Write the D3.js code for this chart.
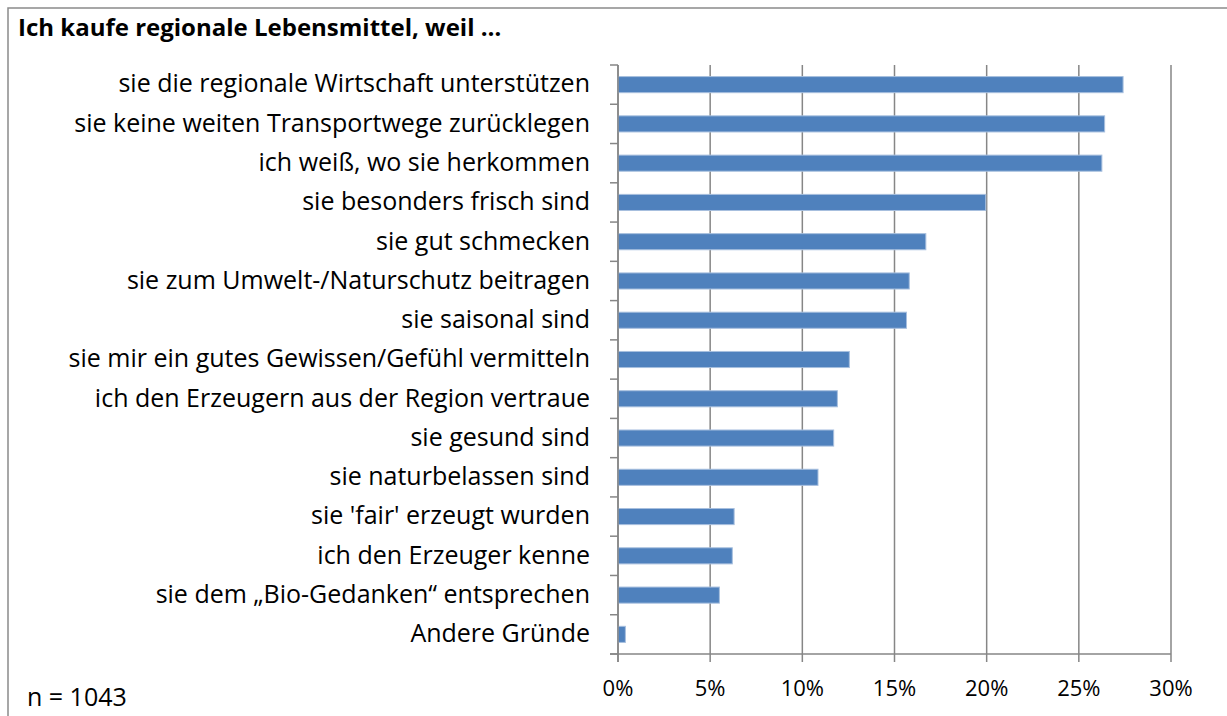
<!DOCTYPE html>
<html>
<head>
<meta charset="utf-8">
<script src="https://cdn.jsdelivr.net/npm/d3@7"></script>
<style>
  body { margin: 0; background: #fff; }
  text { font-family: "Open Sans", "Noto Sans", sans-serif; fill: #000; }
</style>
</head>
<body>
<svg id="chart" width="1227" height="716" viewBox="0 0 1227 716"></svg>
<script>
const reasons = [
  "sie die regionale Wirtschaft unterstützen",
  "sie keine weiten Transportwege zurücklegen",
  "ich weiß, wo sie herkommen",
  "sie besonders frisch sind",
  "sie gut schmecken",
  "sie zum Umwelt-/Naturschutz beitragen",
  "sie saisonal sind",
  "sie mir ein gutes Gewissen/Gefühl vermitteln",
  "ich den Erzeugern aus der Region vertraue",
  "sie gesund sind",
  "sie naturbelassen sind",
  "sie 'fair' erzeugt wurden",
  "ich den Erzeuger kenne",
  "sie dem „Bio-Gedanken“ entsprechen",
  "Andere Gründe"
];
const shares = [27.4, 26.4, 26.25, 19.95, 16.7, 15.8, 15.65, 12.55, 11.9, 11.7, 10.85, 6.3, 6.2, 5.5, 0.4];
const xTicks = [0, 5, 10, 15, 20, 25, 30];

const title = "Ich kaufe regionale Lebensmittel, weil …";
const note = "n = 1043";

const svg = d3.select("#chart");
const margin = { top: 65, left: 618, right: 56, bottom: 62 };
const width = 1227, height = 716;

// frame of the chart area
svg.append("rect")
  .attr("x", 8).attr("y", 8)
  .attr("width", 1240).attr("height", 730)
  .attr("fill", "none")
  .attr("stroke", "#8a8a8a")
  .attr("stroke-width", 1.5);

const x = d3.scaleLinear().domain([0, 30]).range([margin.left, width - margin.right]);
const y = d3.scaleBand().domain(reasons).range([margin.top, height - margin.bottom]).paddingInner(0.59).paddingOuter(0.295);
const yb = d3.scaleBand().domain(reasons).range([margin.top, height - margin.bottom]);
const y0 = margin.top, y1 = height - margin.bottom;

// vertical gridlines + ticks below axis
svg.append("g")
  .selectAll("line")
  .data(xTicks)
  .enter()
  .append("line")
  .attr("x1", (d) => x(d)).attr("x2", (d) => x(d))
  .attr("y1", y0).attr("y2", y1 + 8)
  .attr("stroke", "#868686")
  .attr("stroke-width", 1.5);

// bottom axis line
svg.append("line")
  .attr("x1", x(0) - 8).attr("x2", x(30))
  .attr("y1", y1).attr("y2", y1)
  .attr("stroke", "#868686").attr("stroke-width", 1.5);

// category ticks at band boundaries
const bounds = reasons.map((r) => yb(r)).concat([y1]);
svg.append("g")
  .selectAll("line")
  .data(bounds)
  .enter()
  .append("line")
  .attr("x1", x(0) - 8).attr("x2", x(0))
  .attr("y1", (d) => d).attr("y2", (d) => d)
  .attr("stroke", "#868686").attr("stroke-width", 1.5);

// bars
svg.append("g")
  .selectAll("rect")
  .data(reasons)
  .enter()
  .append("rect")
  .attr("x", x(0))
  .attr("y", (d) => y(d))
  .attr("width", (d, i) => x(shares[i]) - x(0))
  .attr("height", y.bandwidth())
  .attr("fill", "#4f81bd")
  .attr("stroke", "#a7bfde")
  .attr("stroke-width", 1);

// y axis line (drawn over bars)
svg.append("line")
  .attr("x1", x(0)).attr("x2", x(0))
  .attr("y1", y0).attr("y2", y1 + 8)
  .attr("stroke", "#868686").attr("stroke-width", 1.5);

// category labels
svg.append("g")
  .selectAll("text")
  .data(reasons)
  .enter()
  .append("text")
  .attr("x", 590)
  .attr("y", (d) => yb(d) + yb.bandwidth() / 2 + 7.8)
  .attr("text-anchor", "end")
  .attr("font-size", 25)
  .text((d) => d);

// percent labels
svg.append("g")
  .selectAll("text")
  .data(xTicks)
  .enter()
  .append("text")
  .attr("x", (d) => x(d))
  .attr("y", 696)
  .attr("text-anchor", "middle")
  .attr("font-size", 22)
  .text((d) => d3.format("d")(d) + "%");

svg.append("text")
  .attr("x", 18).attr("y", 36)
  .attr("font-size", 24)
  .attr("font-weight", "bold")
  .text(title);

svg.append("text")
  .attr("x", 27).attr("y", 706)
  .attr("font-size", 25)
  .text(note);
</script>
</body>
</html>
